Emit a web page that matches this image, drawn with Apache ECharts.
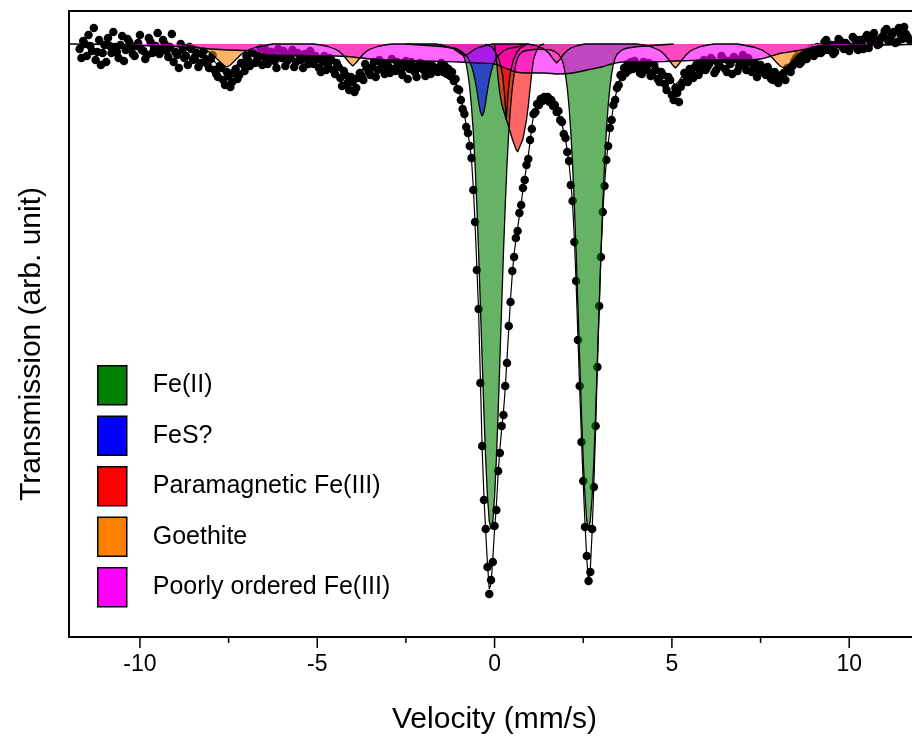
<!DOCTYPE html>
<html>
<head>
<meta charset="utf-8">
<title>Mössbauer spectrum</title>
<script src="https://cdn.jsdelivr.net/npm/echarts@6/dist/echarts.min.js"></script>
<style>
  html, body { margin: 0; padding: 0; background: #fff; }
  #chart { width: 912px; height: 736px; }
</style>
</head>
<body>
<div id="chart"></div>
<script>
// velocity of each channel (mm/s): 0.1 step on the wings, 0.05 across the central doublet
const velocity = [
  -11.7,-11.6,-11.5,-11.4,-11.3,-11.2,-11.1,-11,-10.9,-10.8,
  -10.7,-10.6,-10.5,-10.4,-10.3,-10.2,-10.1,-10,-9.9,-9.8,
  -9.7,-9.6,-9.5,-9.4,-9.3,-9.2,-9.1,-9,-8.9,-8.8,
  -8.7,-8.6,-8.5,-8.4,-8.3,-8.2,-8.1,-8,-7.9,-7.8,
  -7.7,-7.6,-7.5,-7.4,-7.3,-7.2,-7.1,-7,-6.9,-6.8,
  -6.7,-6.6,-6.5,-6.4,-6.3,-6.2,-6.1,-6,-5.9,-5.8,
  -5.7,-5.6,-5.5,-5.4,-5.3,-5.2,-5.1,-5,-4.9,-4.8,
  -4.7,-4.6,-4.5,-4.4,-4.3,-4.2,-4.1,-4,-3.9,-3.8,
  -3.7,-3.6,-3.5,-3.4,-3.3,-3.2,-3.1,-3,-2.9,-2.8,
  -2.7,-2.6,-2.5,-2.4,-2.3,-2.2,-2.1,-2,-1.9,-1.8,
  -1.7,-1.6,
  -1.55,-1.5,-1.45,-1.4,-1.35,-1.3,-1.25,-1.2,-1.15,-1.1,
  -1.05,-1,-0.95,-0.9,-0.85,-0.8,-0.75,-0.7,-0.65,-0.6,
  -0.55,-0.5,-0.45,-0.4,-0.35,-0.3,-0.25,-0.2,-0.15,-0.1,
  -0.05,0,0.05,0.1,0.15,0.2,0.25,0.3,0.35,0.4,
  0.45,0.5,0.55,0.6,0.65,0.7,0.75,0.8,0.85,0.9,
  0.95,1,1.05,1.1,1.15,1.2,1.25,1.3,1.35,1.4,
  1.45,1.5,1.55,1.6,1.65,1.7,1.75,1.8,1.85,1.9,
  1.95,2,2.05,2.1,2.15,2.2,2.25,2.3,2.35,2.4,
  2.45,2.5,2.55,2.6,2.65,2.7,2.75,2.8,2.85,2.9,
  2.95,3,3.05,3.1,3.15,3.2,3.25,3.3,3.35,3.4,
  3.45,3.5,3.55,3.6,3.65,3.7,3.75,3.8,3.85,3.9,
  3.95,4,
  4.1,4.2,4.3,4.4,4.5,4.6,4.7,4.8,4.9,5,
  5.1,5.2,5.3,5.4,5.5,5.6,5.7,5.8,5.9,6,
  6.1,6.2,6.3,6.4,6.5,6.6,6.7,6.8,6.9,7,
  7.1,7.2,7.3,7.4,7.5,7.6,7.7,7.8,7.9,8,
  8.1,8.2,8.3,8.4,8.5,8.6,8.7,8.8,8.9,9,
  9.1,9.2,9.3,9.4,9.5,9.6,9.7,9.8,9.9,10,
  10.1,10.2,10.3,10.4,10.5,10.6,10.7,10.8,10.9,11,
  11.1,11.2,11.3,11.4,11.5,11.6,11.7
];

// measured absorption below the baseline (arb. unit)
const counts = [
  0.5,-0.3,1.2,0.2,-1.6,0.8,2.1,0.1,-0.6,0.9,
  0.3,1.4,-0.8,0.6,-0.2,1.0,0.2,-0.9,0.7,1.1,
  -0.2,0.4,-1.1,0.5,0.0,1.3,-1.0,0.8,2.4,0.6,
  1.2,0.3,1.6,0.9,1.9,0.7,2.0,1.5,2.6,3.3,
  2.4,4.1,3.2,3.8,2.5,3.1,2.0,1.2,2.2,0.9,
  1.6,0.4,1.3,2.0,0.8,1.7,0.5,1.4,2.2,1.0,
  0.6,1.8,1.1,2.4,1.3,0.7,2.0,1.5,2.8,1.2,
  2.1,1.6,3.0,2.3,4.2,3.1,4.6,3.8,4.4,2.9,
  3.6,2.4,3.1,1.8,2.6,1.9,3.0,2.2,1.5,2.7,
  2.0,3.1,1.7,2.5,2.2,3.3,1.9,2.6,2.1,3.0,
  2.4,2.8,
  2.5,1.9,2.8,2.2,3.0,2.5,3.2,2.8,3.7,3.5,
  4.5,4.6,5.6,6.5,7.0,8.3,8.9,10.2,11.4,14.6,
  17.8,22.6,26.5,33.9,40.2,45.6,48.5,52.3,55.0,53.6,
  51.8,48.2,46.6,42.7,40.9,38.2,37.1,34.2,31.9,28.2,
  25.8,22.7,21.3,19.4,18.7,16.9,16.1,14.4,13.6,12.1,
  11.5,9.6,8.5,7.0,6.8,6.0,6.1,5.5,5.7,5.3,
  5.5,5.3,5.8,5.6,6.2,6.1,6.8,6.7,7.6,7.8,
  9.0,9.4,10.8,11.7,14.1,15.7,19.8,23.7,29.6,34.2,
  39.8,43.7,48.3,51.2,53.7,52.8,48.5,44.3,38.2,32.3,
  26.2,21.3,16.8,14.2,11.6,10.2,8.4,7.6,6.1,5.6,
  4.4,4.1,3.1,3.3,2.4,2.9,2.0,2.6,1.8,2.5,
  1.7,2.3,
  2.9,1.8,2.6,3.2,2.1,3.5,2.8,4.0,3.3,5.1,
  4.4,5.8,3.9,3.2,2.5,3.4,2.0,2.7,1.6,2.3,
  1.4,2.9,1.9,1.2,2.5,1.7,3.0,1.5,2.2,1.1,
  2.6,1.8,2.4,3.3,2.1,2.9,2.3,3.5,2.8,3.9,
  3.1,3.6,2.6,2.2,1.4,2.0,0.9,1.5,0.6,1.2,
  0.3,0.9,-0.2,0.6,0.1,0.8,-0.5,0.3,-0.1,0.7,
  -0.7,0.2,-0.4,0.5,-0.9,-0.2,-1.1,0.1,-0.6,-1.3,
  -0.3,-0.9,-0.1,-1.6,-0.5,-1.0,-0.4
];

// the in-between channels on the two wings
const velocityB = [
  -11.65,-11.55,-11.45,-11.35,-11.25,-11.15,-11.05,-10.95,-10.85,-10.75,
  -10.65,-10.55,-10.45,-10.35,-10.25,-10.15,-10.05,-9.95,-9.85,-9.75,
  -9.65,-9.55,-9.45,-9.35,-9.25,-9.15,-9.05,-8.95,-8.85,-8.75,
  -8.65,-8.55,-8.45,-8.35,-8.25,-8.15,-8.05,-7.95,-7.85,-7.75,
  -7.65,-7.55,-7.45,-7.35,-7.25,-7.15,-7.05,-6.95,-6.85,-6.75,
  -6.65,-6.55,-6.45,-6.35,-6.25,-6.15,-6.05,-5.95,-5.85,-5.75,
  -5.65,-5.55,-5.45,-5.35,-5.25,-5.15,-5.05,-4.95,-4.85,-4.75,
  -4.65,-4.55,-4.45,-4.35,-4.25,-4.15,-4.05,-3.95,-3.85,-3.75,
  -3.65,-3.55,-3.45,-3.35,-3.25,-3.15,-3.05,-2.95,-2.85,-2.75,
  -2.65,-2.55,-2.45,-2.35,-2.25,-2.15,-2.05,-1.95,-1.85,-1.75,
  -1.65,
  4.05,4.15,4.25,4.35,4.45,4.55,4.65,4.75,4.85,4.95,
  5.05,5.15,5.25,5.35,5.45,5.55,5.65,5.75,5.85,5.95,
  6.05,6.15,6.25,6.35,6.45,6.55,6.65,6.75,6.85,6.95,
  7.05,7.15,7.25,7.35,7.45,7.55,7.65,7.75,7.85,7.95,
  8.05,8.15,8.25,8.35,8.45,8.55,8.65,8.75,8.85,8.95,
  9.05,9.15,9.25,9.35,9.45,9.55,9.65,9.75,9.85,9.95,
  10.05,10.15,10.25,10.35,10.45,10.55,10.65,10.75,10.85,10.95,
  11.05,11.15,11.25,11.35,11.45,11.55,11.65
];
const countsB = [
  1.4,0.0,-0.9,0.7,1.6,-0.4,0.9,1.8,0.2,-1.2,
  0.8,0.1,1.7,-0.5,0.4,1.2,-0.1,0.6,1.5,-0.6,
  0.9,0.2,1.0,-0.4,0.7,0.3,1.8,1.1,0.0,1.4,
  2.1,0.5,1.3,2.3,1.0,1.6,2.4,1.1,3.0,2.2,
  3.6,2.8,4.3,2.9,3.5,1.9,2.7,1.6,0.8,1.9,
  1.2,2.1,0.6,1.5,1.1,2.4,1.3,0.7,1.7,1.4,
  2.3,0.9,1.6,1.0,2.0,1.7,1.2,2.4,1.8,2.6,
  1.4,2.6,1.9,3.4,2.7,3.9,3.3,4.8,3.4,3.2,
  2.0,2.8,2.3,3.3,1.6,2.4,2.0,2.9,2.5,1.8,
  2.7,2.3,3.5,1.8,2.8,2.4,2.0,3.2,2.5,2.2,
  2.6,
  2.2,3.0,2.4,1.9,2.9,2.6,3.8,3.1,4.6,3.6,
  5.6,4.9,4.3,2.9,3.8,2.8,2.3,3.1,1.9,2.6,
  2.0,1.6,2.6,2.2,1.5,2.8,2.0,1.3,2.7,1.8,
  2.2,1.4,2.8,1.9,2.6,2.4,3.1,2.7,3.6,3.3,
  3.4,2.9,2.4,2.8,1.7,1.2,1.8,1.1,0.9,0.4,
  1.0,0.4,0.7,-0.4,0.2,1.0,0.0,-0.3,0.5,0.1,
  0.3,-0.5,0.6,-0.1,-0.6,0.4,-0.8,-0.4,0.0,-0.8,
  -1.5,-0.6,-1.2,-0.2,-0.9,-1.7,-0.7
];

// total fitted envelope on the main channels
const fitTotal = [
  0,0.01,0.01,0.02,0.02,0.03,0.04,0.05,0.06,0.07,
  0.08,0.09,0.1,0.11,0.12,0.13,0.14,0.15,0.16,0.17,
  0.18,0.19,0.2,0.21,0.22,0.23,0.24,0.25,0.27,0.32,
  0.41,0.5,0.58,0.68,0.83,0.99,1.17,1.42,1.74,2.11,
  2.48,2.83,2.85,2.53,2.19,1.85,1.56,1.35,1.23,1.12,
  1.13,1.18,1.2,1.2,1.14,1.12,1.14,1.15,1.15,1.15,
  1.15,1.15,1.15,1.16,1.17,1.18,1.19,1.25,1.3,1.37,
  1.45,1.57,1.7,1.92,2.24,2.66,3.13,3.5,3.19,2.78,
  2.42,2.16,2.0,1.89,1.79,1.73,1.68,1.65,1.61,1.62,
  1.63,1.64,1.65,1.68,1.71,1.75,1.79,1.83,1.87,1.91,
  2.0,2.05,
  2.1,2.2,2.3,2.4,2.6,2.7,2.9,3.1,3.4,3.8,
  4.3,4.8,5.4,6.2,7.1,8.1,9.0,10.0,11.6,14.3,
  18.0,22.3,26.8,33.5,40.5,45.2,48.8,52.0,54.5,54.0,
  51.5,48.5,46.2,43.0,40.5,38.5,36.8,34.5,31.5,28.5,
  25.5,23.0,21.0,19.6,18.4,17.2,15.9,14.6,13.4,12.3,
  11.2,9.8,8.2,7.2,6.6,6.2,5.9,5.7,5.5,5.4,
  5.4,5.5,5.6,5.8,6.0,6.3,6.6,6.9,7.4,8.0,
  8.8,9.6,10.6,12.0,13.8,16.0,19.5,24.0,29.3,34.5,
  39.5,44.0,48.0,51.5,53.8,52.5,48.8,44.0,38.5,32.0,
  26.5,21.0,17.0,14.0,11.8,10.0,8.6,7.4,6.3,5.4,
  4.6,3.9,3.4,3.0,2.7,2.5,2.3,2.2,2.1,2.0,
  2.0,1.9,
  2.1,2.12,2.17,2.23,2.33,2.44,2.6,2.91,3.27,3.73,
  4.1,3.69,3.18,2.76,2.4,2.18,2.02,1.87,1.78,1.7,
  1.65,1.6,1.6,1.6,1.6,1.6,1.6,1.6,1.63,1.7,
  1.75,1.8,1.84,1.94,2.03,2.13,2.27,2.47,2.75,3.02,
  3.2,3.15,2.82,2.4,1.97,1.6,1.3,1.03,0.85,0.67,
  0.54,0.45,0.35,0.26,0.2,0.19,0.18,0.17,0.16,0.15,
  0.14,0.14,0.13,0.13,0.12,0.11,0.1,0.1,0.09,0.08,
  0.08,0.07,0.07,0.06,0.06,0.05,0.05
];

// Fe(II) doublet
const fe2Vel = [
  -2.5,-2.1,-1.7,-1.5,-1.3,-1.2,-1.1,-1.05,-1,-0.95,
  -0.9,-0.85,-0.8,-0.75,-0.7,-0.65,-0.6,-0.55,-0.5,-0.45,
  -0.4,-0.35,-0.3,-0.25,-0.2,-0.15,-0.1,-0.05,0,0.05,
  0.1,0.15,0.2,0.25,0.3,0.35,0.4,0.45,0.5,0.55,
  0.6,0.65,0.7,0.75,0.8,0.85,0.9,1,1.1,1.2,
  1.3,1.4,1.5,1.55,1.6,1.65,1.7,1.75,1.8,1.85,
  1.9,1.95,2,2.05,2.1,2.15,2.2,2.25,2.3,2.35,
  2.4,2.45,2.5,2.55,2.6,2.65,2.7,2.75,2.8,2.85,
  2.9,2.95,3,3.05,3.1,3.15,3.2,3.25,3.3,3.35,
  3.4,3.45,3.5,3.55,3.6,3.65,3.75,3.85,4.05,4.25,
  4.65,5.05
];
const fe2Abs = [
  0,0.1,0.2,0.25,0.35,0.4,0.5,0.6,0.7,0.85,
  1.05,1.4,2.0,3.0,4.4,6.3,8.8,12.1,16.2,20.9,
  26.2,31.6,36.9,41.6,45.3,47.7,48.5,47.7,45.3,41.6,
  36.9,31.6,26.2,20.9,16.2,12.1,8.8,6.3,4.4,3.0,
  2.0,1.4,1.05,0.85,0.75,0.7,0.65,0.6,0.55,0.55,
  0.52,0.55,0.57,0.6,0.62,0.68,0.77,0.86,1.0,1.2,
  1.55,2.15,3.1,4.4,6.3,8.8,12.1,16.2,20.9,26.2,
  31.6,36.9,41.6,45.3,47.7,48.5,47.7,45.3,41.6,36.9,
  31.6,26.2,20.9,16.2,12.1,8.8,6.3,4.4,3.0,2.0,
  1.4,1.05,0.85,0.7,0.6,0.5,0.4,0.35,0.25,0.2,
  0.1,0
];

// FeS? singlet
const fesVel = [-1.55,-1.35,-1.15,-1.05,-0.95,-0.85,-0.75,-0.65,-0.6,-0.55,-0.5,-0.45,-0.4,-0.35,
  -0.3,-0.25,-0.2,-0.15,-0.1,-0.05,0.05,0.15,0.25,0.35,0.45,0.65,0.85];
const fesAbs = [0,0.3,0.4,0.5,0.7,1.0,1.4,2.2,2.8,3.6,4.6,5.8,6.8,7.2,
  6.8,5.8,4.6,3.6,2.8,2.2,1.4,1.0,0.7,0.5,0.4,0.3,0];

// paramagnetic Fe(III): broad line and narrow line
const fe3Vel = [0,0.05,0.1,0.15,0.2,0.3,0.4,0.5,0.6,0.65,0.7,0.8,0.9,0.95,1,1.05,1.1,1.2,1.3,1.4];
const fe3Abs = [0,1.5,3.5,5.0,6.0,7.2,8.3,9.5,10.5,10.8,10.6,9.5,7.6,6.2,4.5,2.8,1.5,0.5,0.1,0];
const fe3nVel = [-0.27,-0.07,0.03,0.13,0.18,0.23,0.28,0.33,0.38,0.43,0.48,0.53,0.63,0.73,0.93];
const fe3nAbs = [0,0.3,0.8,1.6,2.3,3.2,5.0,7.6,5.0,3.2,2.3,1.6,0.8,0.4,0];

// goethite sextet
const goeVel = [
  -8.85,-8.55,-8.35,-8.15,-8.05,-7.95,-7.85,-7.75,-7.65,-7.55,-7.45,-7.35,-7.25,-7.15,-7.05,-6.95,-6.75,-6.55,-6.25,
  -5.1,-4.9,-4.7,-4.5,-4.4,-4.3,-4.2,-4.1,-4,-3.9,-3.8,-3.7,-3.6,-3.5,-3.3,-3.1,-2.9,
  -1.65,-1.45,-1.25,-1.15,-1.05,-0.95,-0.85,-0.75,-0.65,-0.55,-0.45,-0.25,-0.05,
  0.95,1.15,1.35,1.45,1.55,1.65,1.75,1.85,1.95,2.05,2.15,2.35,2.55,
  4,4.2,4.4,4.6,4.7,4.8,4.9,5,5.1,5.2,5.3,5.4,5.5,5.6,5.8,6,6.2,
  6.85,7.15,7.35,7.55,7.65,7.75,7.85,7.95,8.05,8.15,8.25,8.35,8.45,8.55,8.65,8.75,8.95,9.15,9.45
];
const goeAbs = [
  0,0.2,0.35,0.6,0.8,1.05,1.4,1.75,2.1,2.3,2.1,1.75,1.4,1.05,0.8,0.6,0.35,0.2,0,
  0,0.1,0.25,0.5,0.7,1.0,1.4,1.85,2.2,1.85,1.4,1.0,0.7,0.5,0.25,0.1,0,
  0,0.15,0.35,0.5,0.75,1.0,1.2,1.0,0.75,0.5,0.35,0.15,0,
  0,0.15,0.4,0.65,1.0,1.5,1.9,1.5,1.0,0.65,0.4,0.15,0,
  0,0.1,0.27,0.55,0.75,1.1,1.5,2.0,2.4,2.0,1.5,1.1,0.75,0.55,0.27,0.1,0,
  0,0.2,0.35,0.62,0.85,1.1,1.45,1.85,2.2,2.4,2.2,1.85,1.45,1.1,0.85,0.62,0.35,0.2,0
];

// poorly ordered Fe(III), broad distribution
const pofVel = [-12,-11,-10,-9,-8.5,-8,-7.5,-7,-6.8,-6.6,-6.4,-6,-5.5,-5,-4.5,-4,-3.5,-3,-2.5,-2,
  -1.5,-1,-0.5,0,0.3,0.6,1,1.4,1.8,2.2,2.6,3,3.3,3.6,4,4.4,4.8,5.1,5.5,5.8,
  6.5,7,7.5,7.8,8.1,8.5,8.8,9.1,9.5,10,10.5,11,11.77];
const pofAbs = [0,0.05,0.15,0.25,0.35,0.5,0.6,0.65,0.7,0.95,1.1,1.15,1.15,1.2,1.2,1.3,1.5,1.6,1.65,1.7,
  1.75,1.8,1.9,2.0,2.4,2.8,2.9,2.9,3.0,2.9,2.6,2.3,2.0,1.8,1.8,1.8,1.75,1.7,1.65,1.6,
  1.6,1.6,1.5,1.2,0.9,0.7,0.5,0.3,0.2,0.15,0.12,0.08,0.05];

const majorTicks = [-10, -5, 0, 5, 10];
const minorTicks = [-7.5, -2.5, 2.5, 7.5];

const zip = (xs, ys) => {
  if (xs.length !== ys.length) throw new Error('length mismatch ' + xs.length + ' vs ' + ys.length);
  return xs.map((x, i) => [x, ys[i]]);
};

const font = 'Liberation Sans, Arial, sans-serif';
const outline = { color: '#000', width: 1.3 };
const vMin = -12, vMax = 11.77;
const aMin = -3.3, aMax = 59.3;

const component = (name, vel, abs, fill, extra) => Object.assign({
  name: name,
  type: 'line',
  data: zip(vel, abs),
  showSymbol: false,
  symbol: 'none',
  lineStyle: outline,
  areaStyle: { color: fill, opacity: 1 },
  silent: true
}, extra || {});

// outward tick marks below the bottom axis, placed through the axis scale
const tickSeries = (values, len) => ({
  type: 'custom',
  silent: true,
  clip: false,
  data: values.map(v => [v, aMax]),
  renderItem: (params, api) => {
    const p = api.coord([api.value(0), api.value(1)]);
    return {
      type: 'line',
      shape: { x1: p[0], y1: p[1], x2: p[0], y2: p[1] + len },
      style: { stroke: '#000', lineWidth: 1.5 }
    };
  }
});

const chart = echarts.init(document.getElementById('chart'));
chart.setOption({
  animation: false,
  backgroundColor: '#fff',
  grid: { left: 69, right: 0, top: 11, bottom: 99, outerBoundsMode: 'none', containLabel: false },
  legend: {
    orient: 'vertical',
    left: 97,
    top: 365,
    padding: 0,
    itemWidth: 29,
    itemHeight: 39,
    itemGap: 10,
    icon: 'rect',
    selectedMode: false,
    textStyle: { fontSize: 25, color: '#000', fontFamily: font, padding: [0, 0, 0, 21] },
    data: [
      { name: 'Fe(II)', itemStyle: { color: '#008000', borderColor: '#000', borderWidth: 1.5 } },
      { name: 'FeS?', itemStyle: { color: '#0000ff', borderColor: '#000', borderWidth: 1.5 } },
      { name: 'Paramagnetic Fe(III)', itemStyle: { color: '#ff0000', borderColor: '#000', borderWidth: 1.5 } },
      { name: 'Goethite', itemStyle: { color: '#ff8000', borderColor: '#000', borderWidth: 1.5 } },
      { name: 'Poorly ordered Fe(III)', itemStyle: { color: '#ff00ff', borderColor: '#000', borderWidth: 1.5 } }
    ]
  },
  xAxis: [
    {
      type: 'value', min: vMin, max: vMax, position: 'bottom',
      axisLine: { onZero: false, lineStyle: { color: '#000', width: 2 } },
      axisTick: { show: false },
      axisLabel: { customValues: majorTicks, fontSize: 23, color: '#000', margin: 16, fontFamily: font },
      splitLine: { show: false },
      name: 'Velocity (mm/s)', nameLocation: 'middle', nameGap: 68,
      nameTextStyle: { fontSize: 30, color: '#000', fontFamily: font, padding: [0, 0, 0, 8] }
    },
    {
      type: 'value', min: vMin, max: vMax, position: 'top',
      axisLine: { onZero: false, lineStyle: { color: '#000', width: 2 } },
      axisTick: { show: false },
      axisLabel: { show: false },
      splitLine: { show: false }
    }
  ],
  yAxis: {
    type: 'value', inverse: true, min: aMin, max: aMax,
    axisLine: { show: true, onZero: false, lineStyle: { color: '#000', width: 2 } },
    axisTick: { show: false },
    axisLabel: { show: false },
    splitLine: { show: false },
    name: 'Transmission (arb. unit)', nameLocation: 'middle', nameGap: 22,
    nameTextStyle: { fontSize: 30, color: '#000', fontFamily: font, padding: [0, 40, 0, 0] }
  },
  series: [
    {
      name: 'data', type: 'scatter',
      data: zip(velocity, counts).concat(zip(velocityB, countsB)),
      symbolSize: 8.5, itemStyle: { color: '#000', opacity: 1 }, silent: true
    },
    component('Fe(II)', fe2Vel, fe2Abs, 'rgba(0,128,0,0.6)'),
    component('FeS?', fesVel, fesAbs, 'rgba(0,0,255,0.6)'),
    component('Paramagnetic Fe(III)', fe3Vel, fe3Abs, 'rgba(255,0,0,0.6)'),
    component('Paramagnetic Fe(III)', fe3nVel, fe3nAbs, 'rgba(255,0,0,0.6)'),
    component('Goethite', goeVel, goeAbs, 'rgba(255,128,0,0.6)'),
    component('Poorly ordered Fe(III)', pofVel, pofAbs, 'rgba(255,0,255,0.6)', { smooth: 0.3 }),
    {
      name: 'fit', type: 'line', data: zip(velocity, fitTotal),
      showSymbol: false, symbol: 'none',
      lineStyle: { color: '#000', width: 1.2 }, silent: true
    },
    tickSeries(majorTicks, 11),
    tickSeries(minorTicks, 6)
  ]
});
</script>
</body>
</html>
